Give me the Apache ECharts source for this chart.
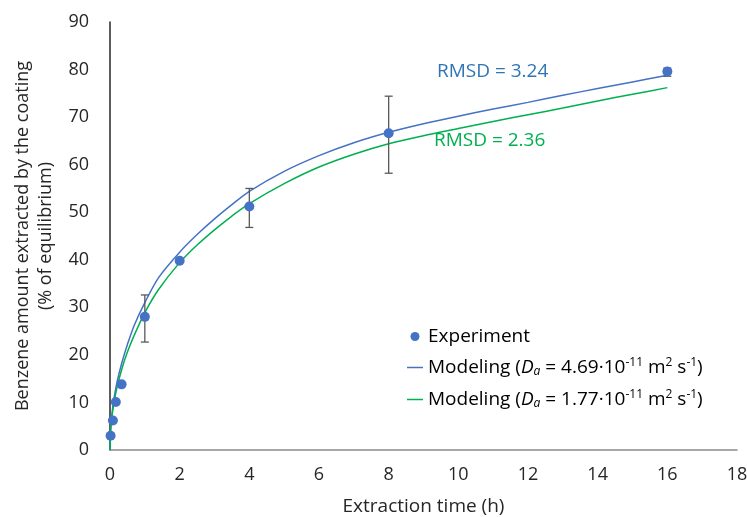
<!DOCTYPE html>
<html>
<head>
<meta charset="utf-8">
<script src="https://cdn.jsdelivr.net/npm/echarts@6/dist/echarts.min.js"></script>
<style>
  html, body { margin: 0; padding: 0; background: #fff; }
  #chart { width: 747px; height: 517px; }
</style>
</head>
<body>
<div id="chart"></div>
<script>
// experiment (h, % of equilibrium) with error bar limits
var expTime = [0.0167, 0.083, 0.167, 0.333, 1, 2, 4, 8, 16];
var expValue = [3.0, 6.2, 10.1, 13.8, 28.0, 39.8, 51.2, 66.6, 79.6];
var expLow = [3.0, 6.2, 10.1, 13.8, 22.7, 39.8, 46.8, 58.2, 78.6];
var expHigh = [3.0, 6.2, 10.1, 13.8, 32.6, 39.8, 55.0, 74.4, 80.3];

// model curves
var modelTime = [0, 0.0167, 0.05, 0.1, 0.2, 0.35, 0.5, 0.7, 1, 1.4, 2, 2.5, 3, 3.5, 4, 5, 6, 7, 8, 9, 10, 11, 12, 13, 14, 15, 16];
var modelFast = [0, 4.1, 7.1, 10.1, 14.2, 18.6, 22.2, 26.3, 31.0, 36.3, 41.6, 45.3, 48.6, 51.6, 54.4, 58.6, 61.9, 64.6, 66.8, 68.6, 70.2, 71.7, 73.1, 74.6, 76.0, 77.4, 78.8];
var modelSlow = [0, 3.8, 6.6, 9.3, 13.1, 17.3, 20.6, 24.2, 28.9, 33.8, 39.4, 43.1, 46.3, 49.2, 51.8, 56.0, 59.5, 62.2, 64.4, 66.1, 67.6, 69.1, 70.5, 71.9, 73.4, 74.8, 76.2];

var xTicks = { min: 0, max: 18, interval: 2 };
var yTicks = { min: 0, max: 90, interval: 10 };

function pairs(xs, ys) {
    return xs.map(function (x, i) { return [x, ys[i]]; });
}

var FONT = 'Open Sans';
var FS = 19;
var richLegend = {
    n: { fontSize: FS, fontFamily: FONT, color: '#000', lineHeight: 21 },
    i: { fontSize: FS, fontFamily: FONT, fontStyle: 'italic', color: '#000', lineHeight: 21 },
    sub: { fontSize: 12, fontFamily: FONT, fontStyle: 'italic', color: '#000', verticalAlign: 'bottom', lineHeight: 14 },
    sup: { fontSize: 12, fontFamily: FONT, color: '#000', verticalAlign: 'top', lineHeight: 14 }
};

function modelLabel(d) {
    return '{n|Modeling (}{i|D}{sub|a}{n| = ' + d + '·10}{sup|-11}{n| m}{sup|2}{n| s}{sup|-1}{n|)}';
}

var lineIcon = 'path://M0,0H16V1.5H0Z';

var chart = echarts.init(document.getElementById('chart'));
chart.setOption({
    animation: false,
    grid: { left: 110, right: 10, top: 22, bottom: 67, outerBoundsMode: 'none', containLabel: false },
    xAxis: {
        type: 'value',
        min: xTicks.min, max: xTicks.max, interval: xTicks.interval,
        name: 'Extraction time (h)',
        nameLocation: 'middle',
        nameGap: 47,
        nameTextStyle: { fontSize: FS, fontFamily: FONT, color: '#262626' },
        axisLine: { show: true, lineStyle: { color: '#8c8c8c', width: 1.5 } },
        axisTick: { show: false },
        splitLine: { show: false },
        axisLabel: { fontSize: 18, fontFamily: FONT, color: '#262626', margin: 16 }
    },
    yAxis: {
        type: 'value',
        min: yTicks.min, max: yTicks.max, interval: yTicks.interval,
        name: 'Benzene amount extracted by the coating\n(% of equilibrium)',
        nameLocation: 'middle',
        nameGap: 50,
        nameTextStyle: { fontSize: 18, fontFamily: FONT, color: '#262626', lineHeight: 23 },
        axisLine: { show: true, lineStyle: { color: '#262626', width: 1.5 } },
        axisTick: { show: false },
        splitLine: { show: false },
        axisLabel: { fontSize: 18, fontFamily: FONT, color: '#262626', margin: 21 }
    },
    legend: {
        orient: 'vertical',
        left: 402,
        top: 322,
        itemGap: 11,
        itemWidth: 16,
        itemHeight: 9,
        symbolKeepAspect: true,
        data: [
            { name: 'Experiment', icon: 'circle' },
            { name: 'fast', icon: lineIcon },
            { name: 'slow', icon: lineIcon }
        ],
        formatter: function (name) {
            if (name === 'fast') return modelLabel('4.69');
            if (name === 'slow') return modelLabel('1.77');
            return '{n|' + name + '}';
        },
        textStyle: { rich: richLegend, padding: [0, 0, 0, 0] }
    },
    graphic: [
        { type: 'text', left: 437, top: 62, style: { text: 'RMSD = 3.24', fontSize: FS, fontFamily: FONT, fill: '#2E75B6' } },
        { type: 'text', left: 434, top: 131, style: { text: 'RMSD = 2.36', fontSize: FS, fontFamily: FONT, fill: '#00B050' } }
    ],
    series: [
        {
            name: 'fast',
            type: 'line',
            data: pairs(modelTime, modelFast),
            smooth: 0.3,
            symbol: 'none',
            color: '#4472C4',
            lineStyle: { width: 1.5, color: '#4472C4' },
            z: 2
        },
        {
            name: 'slow',
            type: 'line',
            data: pairs(modelTime, modelSlow),
            smooth: 0.3,
            symbol: 'none',
            color: '#00B050',
            lineStyle: { width: 1.5, color: '#00B050' },
            z: 2
        },
        {
            name: 'errors',
            type: 'custom',
            data: expTime.map(function (t, i) { return [t, expLow[i], expHigh[i]]; }),
            renderItem: function (params, api) {
                var lo = api.coord([api.value(0), api.value(1)]);
                var hi = api.coord([api.value(0), api.value(2)]);
                var w = 4;
                var st = { stroke: '#595959', lineWidth: 1.3 };
                return {
                    type: 'group',
                    children: [
                        { type: 'line', shape: { x1: lo[0], y1: lo[1], x2: hi[0], y2: hi[1] }, style: st },
                        { type: 'line', shape: { x1: lo[0] - w, y1: lo[1], x2: lo[0] + w, y2: lo[1] }, style: st },
                        { type: 'line', shape: { x1: hi[0] - w, y1: hi[1], x2: hi[0] + w, y2: hi[1] }, style: st }
                    ]
                };
            },
            z: 3
        },
        {
            name: 'Experiment',
            type: 'scatter',
            data: pairs(expTime, expValue),
            symbolSize: 10,
            itemStyle: { color: '#4472C4', opacity: 1 },
            z: 4
        }
    ]
});
</script>
</body>
</html>
